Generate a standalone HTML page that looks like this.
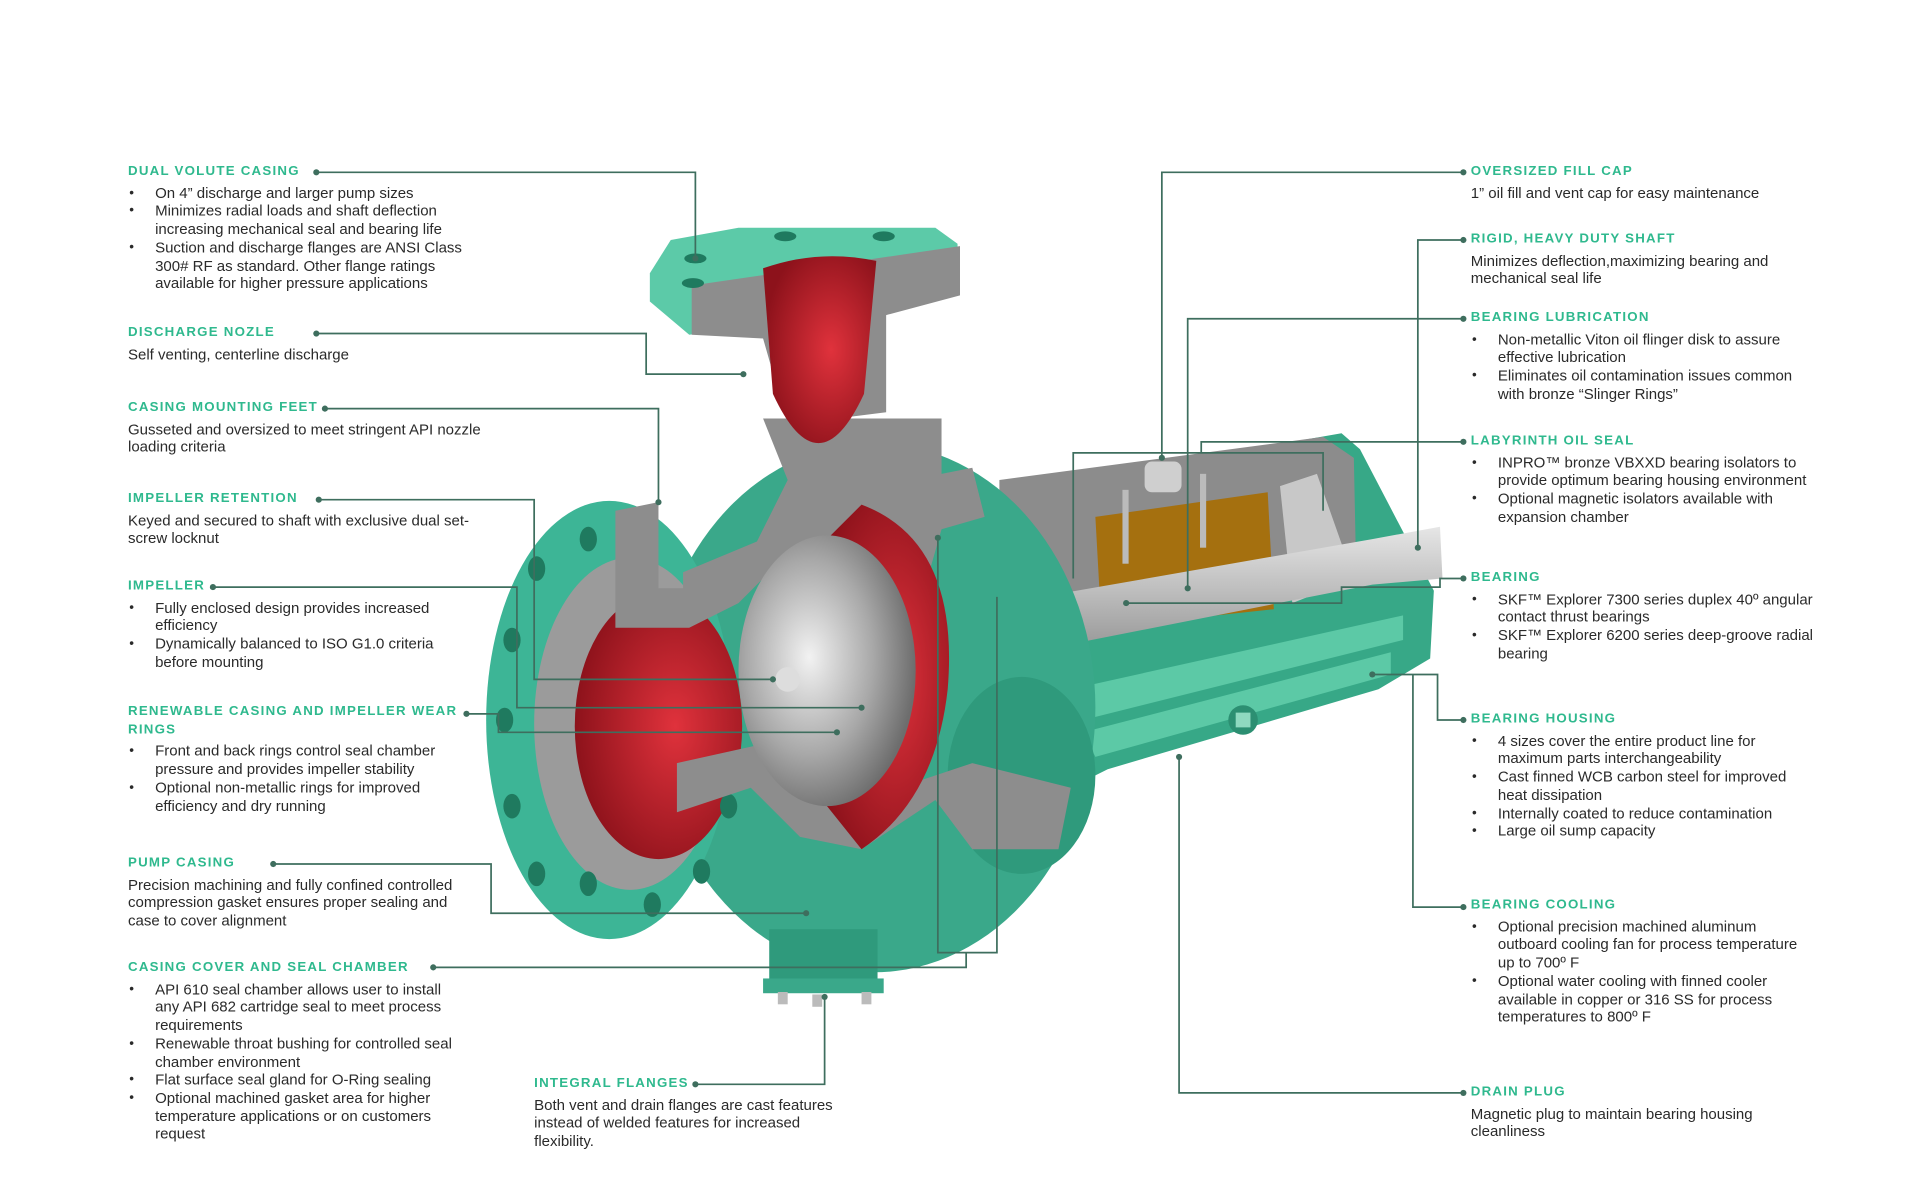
<!DOCTYPE html>
<html><head><meta charset="utf-8"><style>
html,body{margin:0;padding:0;background:#fff;}
body{width:1920px;height:1200px;overflow:hidden;position:relative;}
#c{position:absolute;left:0;top:0;width:1560px;height:975px;transform:scale(1.230769);transform-origin:0 0;font-family:"Liberation Sans",sans-serif;color:#2a2a2a;}
.b{position:absolute;font-size:12.2px;line-height:14.7px;white-space:nowrap;}
.h{color:#2fb98e;font-weight:bold;font-size:10.8px;letter-spacing:1px;line-height:14.7px;margin-bottom:3px;}
.b ul{list-style:none;margin:0;padding:0;}
.b li{position:relative;padding-left:22px;}
.b li:before{content:"•";position:absolute;left:1px;top:0;font-size:11px;}
svg{position:absolute;left:0;top:0;}
</style></head><body><div id="c">
<svg width="1560" height="975" viewBox="0 0 1560 975">
<defs>
<linearGradient id="sh" x1="0" y1="0" x2="0" y2="1"><stop offset="0" stop-color="#e6e6e6"/><stop offset=".45" stop-color="#bdbdbd"/><stop offset="1" stop-color="#8a8a8a"/></linearGradient>
<radialGradient id="imp" cx=".4" cy=".45" r=".6"><stop offset="0" stop-color="#f2f2f2"/><stop offset=".6" stop-color="#a8a8a8"/><stop offset="1" stop-color="#6d6d6d"/></radialGradient>
<radialGradient id="red" cx=".6" cy=".5" r=".6"><stop offset="0" stop-color="#e0323c"/><stop offset="1" stop-color="#8d121b"/></radialGradient>
</defs>
<polygon points="760,410 1090,352 1105,365 1165,480 1162,535 1120,560 900,625 850,650 770,610" fill="#37a887"/>
<polygon points="870,560 1140,500 1140,520 880,585" fill="#5cc9a6"/>
<polygon points="880,595 1130,530 1130,548 890,615" fill="#5cc9a6"/>
<circle cx="1010" cy="585" r="12" fill="#2c8f72"/><rect x="1004" y="579" width="12" height="12" fill="#8fd9c0"/>
<polygon points="812,390 1075,355 1100,372 1102,470 1000,480 880,500 812,505" fill="#8c8c8c"/>
<polygon points="890,420 1030,400 1035,495 895,510" fill="#a5700f"/>
<polygon points="1040,395 1070,385 1100,470 1050,490" fill="#c8c8c8"/>
<polygon points="760,500 1115,438 1170,428 1172,470 1115,475 760,545" fill="url(#sh)"/>
<rect x="930" y="375" width="30" height="25" rx="6" fill="#cfcfcf"/>
<rect x="912" y="398" width="5" height="60" fill="#bbb"/><rect x="975" y="385" width="5" height="60" fill="#bbb"/>
<ellipse cx="710" cy="575" rx="180" ry="215" fill="#3aa88a"/>
<ellipse cx="830" cy="630" rx="60" ry="80" fill="#2f9a7c"/>
<ellipse cx="495" cy="585" rx="100" ry="178" fill="#3db596"/>
<ellipse cx="512" cy="588" rx="78" ry="135" fill="#9b9b9b"/>
<ellipse cx="535" cy="590" rx="68" ry="108" fill="url(#red)"/>
<g fill="#1f7a5f"><ellipse cx="436" cy="462" rx="7" ry="10"/><ellipse cx="416" cy="520" rx="7" ry="10"/><ellipse cx="410" cy="585" rx="7" ry="10"/><ellipse cx="416" cy="655" rx="7" ry="10"/><ellipse cx="436" cy="710" rx="7" ry="10"/><ellipse cx="478" cy="438" rx="7" ry="10"/><ellipse cx="478" cy="718" rx="7" ry="10"/><ellipse cx="530" cy="735" rx="7" ry="10"/><ellipse cx="570" cy="708" rx="7" ry="10"/><ellipse cx="592" cy="655" rx="7" ry="10"/></g>
<polygon points="500,415 535,408 535,478 555,478 555,465 615,440 640,390 620,340 765,340 765,385 790,380 800,420 765,430 745,500 700,520 650,470 620,470 600,490 560,510 500,510" fill="#8d8d8d"/>
<polygon points="550,620 640,600 700,650 790,620 870,640 860,690 790,690 760,650 700,690 650,680 610,640 550,660" fill="#8d8d8d"/>
<path d="M700,410 Q780,440 770,560 Q760,650 700,690 L660,640 Q700,560 670,440 Z" fill="url(#red)"/>
<ellipse cx="672" cy="545" rx="72" ry="110" fill="url(#imp)"/>
<circle cx="640" cy="552" r="10" fill="#ddd"/>
<polygon points="528,222 545,195 600,185 760,185 778,198 778,228 720,250 560,272 528,245" fill="#5ccaa8"/>
<polygon points="562,232 780,200 780,240 720,256 720,335 640,345 620,275 562,272" fill="#8d8d8d"/>
<path d="M620,218 Q665,202 712,212 L702,320 Q665,400 628,320 Z" fill="url(#red)"/>
<g fill="#1f7a5f"><ellipse cx="565" cy="210" rx="9" ry="4"/><ellipse cx="563" cy="230" rx="9" ry="4"/><ellipse cx="638" cy="192" rx="9" ry="4"/><ellipse cx="718" cy="192" rx="9" ry="4"/></g>
<rect x="625" y="755" width="88" height="50" fill="#2f9a7c"/>
<rect x="620" y="795" width="98" height="12" fill="#3aa88a"/>
<g fill="#bbb"><rect x="632" y="806" width="8" height="10"/><rect x="660" y="808" width="8" height="10"/><rect x="700" y="806" width="8" height="10"/></g>
<g stroke="#3e6e5e" stroke-width="1.4" fill="none">
<polyline points="257,140 565,140 565,210"/>
<polyline points="257,271 525,271 525,304 604,304"/>
<polyline points="264,332 535,332 535,408"/>
<polyline points="259,406 434,406 434,552 628,552"/>
<polyline points="173,477 420,477 420,575 700,575"/>
<polyline points="379,580 405,580 405,595 680,595"/>
<polyline points="222,702 399,702 399,742 655,742"/>
<polyline points="352,786 785,786 785,774"/>
<polyline points="762,437 762,774 810,774 810,485"/>
<polyline points="565,881 670,881 670,810"/>
<polyline points="1189,140 944,140 944,372"/>
<polyline points="1189,195 1152,195 1152,445"/>
<polyline points="1189,259 965,259 965,478"/>
<polyline points="1189,359 976,359 976,368"/>
<polyline points="872,470 872,368 1075,368 1075,415"/>
<polyline points="1189,470 1170,470 1170,477 1090,477 1090,490 915,490"/>
<polyline points="1189,585 1168,585 1168,548 1115,548"/>
<polyline points="1189,737 1148,737 1148,548"/>
<polyline points="1189,888 958,888 958,615"/>
</g>
<g fill="#3e6e5e">
<circle cx="257" cy="140" r="2.5"/><circle cx="565" cy="210" r="2.5"/><circle cx="257" cy="271" r="2.5"/><circle cx="604" cy="304" r="2.5"/><circle cx="264" cy="332" r="2.5"/><circle cx="535" cy="408" r="2.5"/><circle cx="259" cy="406" r="2.5"/><circle cx="628" cy="552" r="2.5"/><circle cx="173" cy="477" r="2.5"/><circle cx="700" cy="575" r="2.5"/><circle cx="379" cy="580" r="2.5"/><circle cx="680" cy="595" r="2.5"/><circle cx="222" cy="702" r="2.5"/><circle cx="655" cy="742" r="2.5"/><circle cx="352" cy="786" r="2.5"/><circle cx="762" cy="437" r="2.5"/><circle cx="565" cy="881" r="2.5"/><circle cx="670" cy="810" r="2.5"/>
<circle cx="1189" cy="140" r="2.5"/><circle cx="944" cy="372" r="2.5"/><circle cx="1189" cy="195" r="2.5"/><circle cx="1152" cy="445" r="2.5"/><circle cx="1189" cy="259" r="2.5"/><circle cx="965" cy="478" r="2.5"/><circle cx="1189" cy="359" r="2.5"/><circle cx="1189" cy="470" r="2.5"/><circle cx="915" cy="490" r="2.5"/><circle cx="1189" cy="585" r="2.5"/><circle cx="1115" cy="548" r="2.5"/><circle cx="1189" cy="737" r="2.5"/><circle cx="1189" cy="888" r="2.5"/><circle cx="958" cy="615" r="2.5"/>
</g>
</svg>

<div class="b" style="left:104px;top:132px"><div class="h">DUAL VOLUTE CASING</div><ul><li>On 4” discharge and larger pump sizes</li><li>Minimizes radial loads and shaft deflection<br>increasing mechanical seal and bearing life</li><li>Suction and discharge flanges are ANSI Class<br>300# RF as standard. Other flange ratings<br>available for higher pressure applications</li></ul></div>
<div class="b" style="left:104px;top:263px"><div class="h">DISCHARGE NOZLE</div>Self venting, centerline discharge</div>
<div class="b" style="left:104px;top:324px"><div class="h">CASING MOUNTING FEET</div>Gusseted and oversized to meet stringent API nozzle<br>loading criteria</div>
<div class="b" style="left:104px;top:398px"><div class="h">IMPELLER RETENTION</div>Keyed and secured to shaft with exclusive dual set-<br>screw locknut</div>
<div class="b" style="left:104px;top:469px"><div class="h">IMPELLER</div><ul><li>Fully enclosed design provides increased<br>efficiency</li><li>Dynamically balanced to ISO G1.0 criteria<br>before mounting</li></ul></div>
<div class="b" style="left:104px;top:571px"><div class="h">RENEWABLE CASING AND IMPELLER WEAR<br>RINGS</div><ul><li>Front and back rings control seal chamber<br>pressure and provides impeller stability</li><li>Optional non-metallic rings for improved<br>efficiency and dry running</li></ul></div>
<div class="b" style="left:104px;top:694px"><div class="h">PUMP CASING</div>Precision machining and fully confined controlled<br>compression gasket ensures proper sealing and<br>case to cover alignment</div>
<div class="b" style="left:104px;top:779px"><div class="h">CASING COVER AND SEAL CHAMBER</div><ul><li>API 610 seal chamber allows user to install<br>any API 682 cartridge seal to meet process<br>requirements</li><li>Renewable throat bushing for controlled seal<br>chamber environment</li><li>Flat surface seal gland for O-Ring sealing</li><li>Optional machined gasket area for higher<br>temperature applications or on customers<br>request</li></ul></div>
<div class="b" style="left:434px;top:873px"><div class="h">INTEGRAL FLANGES</div>Both vent and drain flanges are cast features<br>instead of welded features for increased<br>flexibility.</div>

<div class="b" style="left:1195px;top:132px"><div class="h">OVERSIZED FILL CAP</div>1” oil fill and vent cap for easy maintenance</div>
<div class="b" style="left:1195px;top:187px"><div class="h">RIGID, HEAVY DUTY SHAFT</div>Minimizes deflection,maximizing bearing and<br>mechanical seal life</div>
<div class="b" style="left:1195px;top:251px"><div class="h">BEARING LUBRICATION</div><ul><li>Non-metallic Viton oil flinger disk to assure<br>effective lubrication</li><li>Eliminates oil contamination issues common<br>with bronze “Slinger Rings”</li></ul></div>
<div class="b" style="left:1195px;top:351px"><div class="h">LABYRINTH OIL SEAL</div><ul><li>INPRO™ bronze VBXXD bearing isolators to<br>provide optimum bearing housing environment</li><li>Optional magnetic isolators available with<br>expansion chamber</li></ul></div>
<div class="b" style="left:1195px;top:462px"><div class="h">BEARING</div><ul><li>SKF™ Explorer 7300 series duplex 40º angular<br>contact thrust bearings</li><li>SKF™ Explorer 6200 series deep-groove radial<br>bearing</li></ul></div>
<div class="b" style="left:1195px;top:577px"><div class="h">BEARING HOUSING</div><ul><li>4 sizes cover the entire product line for<br>maximum parts interchangeability</li><li>Cast finned WCB carbon steel for improved<br>heat dissipation</li><li>Internally coated to reduce contamination</li><li>Large oil sump capacity</li></ul></div>
<div class="b" style="left:1195px;top:728px"><div class="h">BEARING COOLING</div><ul><li>Optional precision machined aluminum<br>outboard cooling fan for process temperature<br>up to 700º F</li><li>Optional water cooling with finned cooler<br>available in copper or 316 SS for process<br>temperatures to 800º F</li></ul></div>
<div class="b" style="left:1195px;top:880px"><div class="h">DRAIN PLUG</div>Magnetic plug to maintain bearing housing<br>cleanliness</div>
</div></body></html>
